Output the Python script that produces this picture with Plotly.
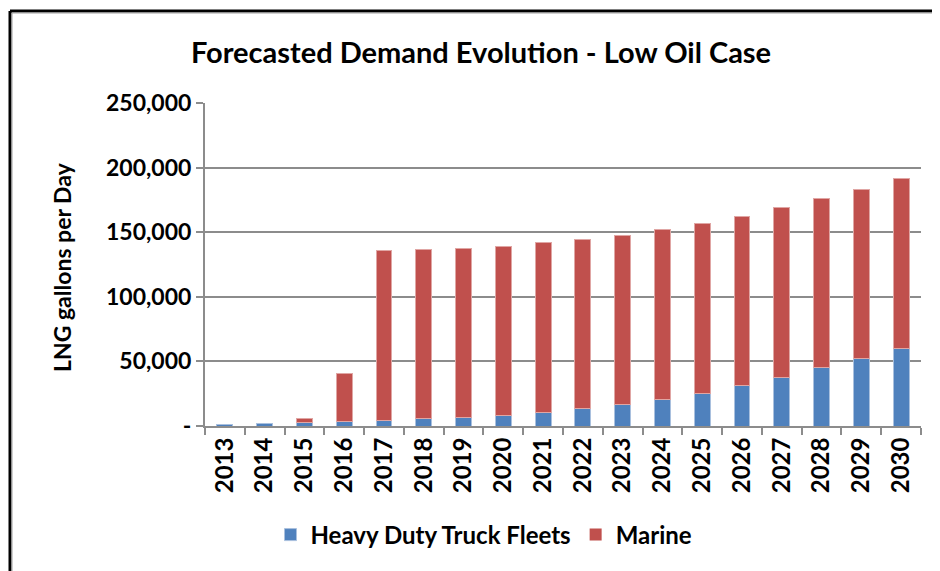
import plotly.graph_objects as go

years = [str(y) for y in range(2013, 2031)]
truck = [1500, 2000, 2500, 3500, 4400, 5500, 6200, 8200, 10500, 13400,
         17000, 20600, 25500, 31200, 37600, 44900, 52100, 59800]
total = [1500, 2000, 5500, 41000, 135500, 136500, 137500, 139300, 141700, 144200,
         147500, 152100, 156800, 162500, 168750, 175800, 183400, 191200]
marine = [t - h for t, h in zip(total, truck)]

y_ticks = [0, 50000, 100000, 150000, 200000, 250000]
y_labels = ["-", "50,000", "100,000", "150,000", "200,000", "250,000"]

FONT = "Lato"
OFF = 8  # the page body has an 8px margin, so the figure is drawn from (8, 8)
W, H = 940 - OFF, 571 - OFF
L, R, T, B = 205 - OFF, 19, 103 - OFF, 571 - 426

fig = go.Figure()
fig.add_trace(go.Bar(
    x=years, y=truck, name="Heavy Duty Truck Fleets",
    marker=dict(color="#4F81BD", line=dict(color="#a9c0de", width=1))
))
fig.add_trace(go.Bar(
    x=years, y=marine, name="Marine",
    marker=dict(color="#C0504D",
                line=dict(color="#e0a6a4", width=[1 if v > 0 else 0 for v in marine]))
))

pw, ph = W - L - R, H - T - B


# screen pixel -> paper coordinates
def px_x(p):
    return (p - OFF - L) / pw


def px_y(p):
    return (H - B - (p - OFF)) / ph


# outer frame (top and left edges only, as in the original)
frame = dict(type="line", xref="paper", yref="paper")
fig.add_shape(**frame, x0=px_x(10), x1=px_x(950), y0=px_y(11), y1=px_y(11),
              line=dict(color="black", width=3))
fig.add_shape(**frame, x0=px_x(10), x1=px_x(10), y0=px_y(11), y1=px_y(580),
              line=dict(color="black", width=3))
fig.add_shape(**frame, x0=px_x(12), x1=px_x(950), y0=px_y(13), y1=px_y(13),
              line=dict(color="#a0a0a0", width=1))
fig.add_shape(**frame, x0=px_x(12), x1=px_x(12), y0=px_y(13), y1=px_y(580),
              line=dict(color="#a0a0a0", width=1))

# y-axis title placed by hand
fig.add_annotation(text="<b>LNG gallons per Day</b>", textangle=-90,
                   xref="paper", yref="paper", x=px_x(62), y=px_y(267),
                   xanchor="center", yanchor="middle", showarrow=False,
                   font=dict(family=FONT, size=23, color="black"))

fig.update_layout(
    width=W, height=H,
    margin=dict(l=L, r=R, t=T, b=B, autoexpand=False),
    barmode="stack", bargap=0.6,
    plot_bgcolor="white", paper_bgcolor="white",
    font=dict(family=FONT, color="black", size=22),
    title=dict(text="<b>Forecasted Demand Evolution - Low Oil Case</b>",
               xref="container", yref="container",
               x=(481 - OFF) / W, xanchor="center",
               y=1 - (53 - OFF) / H, yanchor="middle",
               font=dict(family=FONT, size=29, color="black")),
    legend=dict(orientation="h", x=px_x(484), xanchor="center",
                y=px_y(535), yanchor="middle",
                font=dict(family=FONT, size=24, color="black", weight="bold"),
                traceorder="normal", itemwidth=30),
    yaxis=dict(
        range=[0, 250000], tickvals=y_ticks, ticktext=y_labels,
        tickfont=dict(family=FONT, size=23, weight="bold"),
        showgrid=True, gridcolor="#8c8c8c", gridwidth=2,
        showline=True, linecolor="#8c8c8c", linewidth=2,
        ticks="outside", ticklen=7, tickcolor="#8c8c8c", tickwidth=2,
        zeroline=False,
    ),
    xaxis=dict(
        type="category", tickangle=-90,
        tickfont=dict(family=FONT, size=24, weight="bold"),
        showline=True, linecolor="#8c8c8c", linewidth=2,
        ticks="outside", ticklen=7, tickcolor="#8c8c8c", tickwidth=2,
        tickson="boundaries", showgrid=False,
    ),
)

fig.write_html("out.html")
